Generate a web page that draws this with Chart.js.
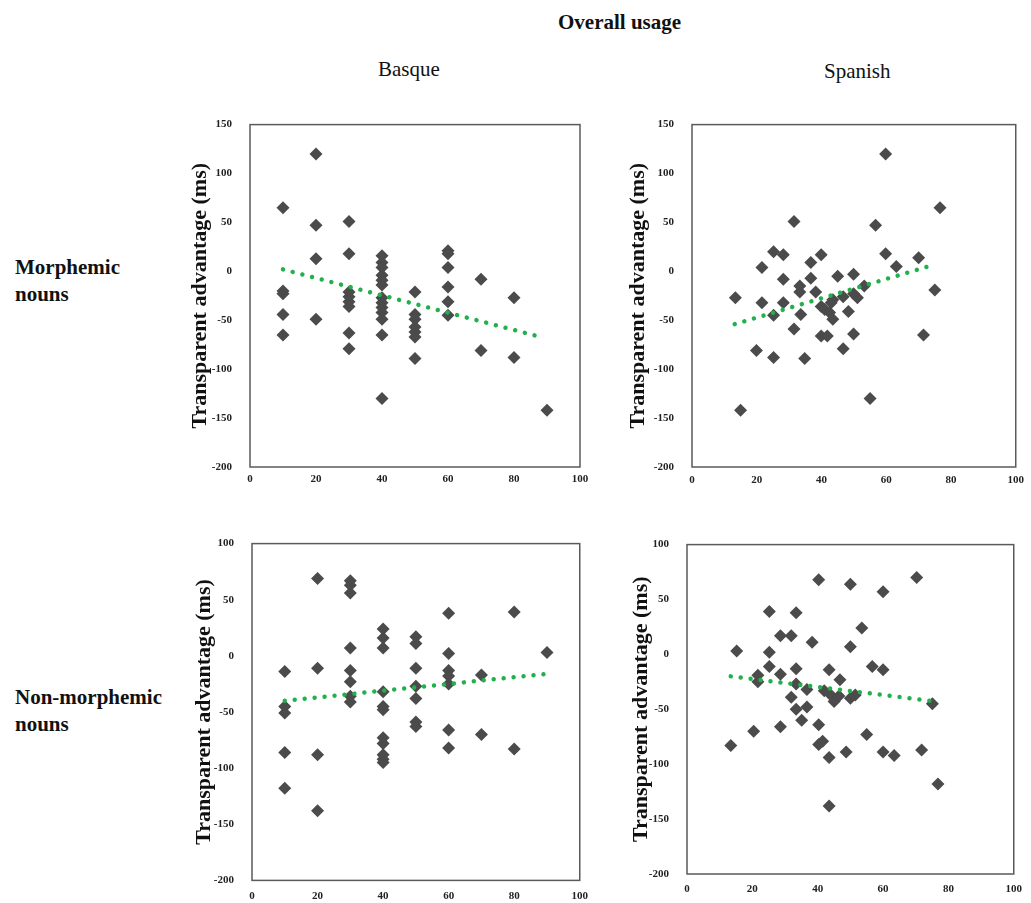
<!DOCTYPE html>
<html>
<head>
<meta charset="utf-8">
<script src="https://cdn.jsdelivr.net/npm/chart.js"></script>
<style>
    body { margin: 0; width: 1031px; height: 903px; overflow: hidden; background: #fff; font-family: 'Liberation Serif', 'Times New Roman', serif; }
    .lbl { position: absolute; color: #111; white-space: nowrap; }
    .bold { font-weight: bold; }
    canvas { position: absolute; }
</style>
</head>
<body>
<div class="lbl bold" style="left:558px; top:10px; font-size:21px;">Overall usage</div>
<div class="lbl" style="left:378px; top:57px; font-size:21px;">Basque</div>
<div class="lbl" style="left:824px; top:59px; font-size:21px;">Spanish</div>
<div class="lbl bold" style="left:15px; top:254px; font-size:21px; line-height:27px;">Morphemic<br>nouns</div>
<div class="lbl bold" style="left:15px; top:684px; font-size:21px; line-height:27px;">Non-morphemic<br>nouns</div>

<canvas id="c1" width="420" height="400" style="left:175px; top:100px;"></canvas>
<canvas id="c2" width="414" height="400" style="left:617px; top:100px;"></canvas>
<canvas id="c3" width="420" height="386" style="left:177px; top:519px;"></canvas>
<canvas id="c4" width="419" height="383" style="left:612px; top:520px;"></canvas>

<script>
// Basque - morphemic nouns
const basqueMorphX = [10, 10, 10, 10, 10, 20, 20, 20, 20, 30, 30, 30, 30, 30, 30, 30, 30,
    40, 40, 40, 40, 40, 40, 40, 40, 40, 40, 40, 40, 40, 50, 50, 50, 50, 50, 50, 50,
    60, 60, 60, 60, 60, 60, 70, 70, 80, 80, 90];
const basqueMorphY = [65, -20, -23, -44, -65, 120, 47, 13, -49, 51, 18, -21, -26, -31, -36, -63, -79,
    16, 9, 4, -4, -9, -14, -27, -32, -37, -42, -49, -65, -130, -21, -44, -49, -57, -62, -67, -89,
    21, 18, 4, -16, -31, -45, -8, -81, -27, -88, -142];
const basqueMorphTrendX = [10, 88];
const basqueMorphTrendY = [2, -67];

// Spanish - morphemic nouns
const spanishMorphX = [13.4, 15, 19.9, 21.6, 21.6, 25.2, 25.2, 25.2, 28.2, 28.2, 28.2, 31.5, 31.5,
    33.3, 33.3, 33.6, 34.8, 36.7, 36.7, 38.2, 39.9, 39.9, 39.9, 41.8, 41, 42.5, 43, 43.5, 43.5,
    45, 46.7, 46.7, 48.3, 49.9, 49.9, 49.9, 51.1, 53.2, 55, 56.7, 59.8, 59.8, 63.1, 70, 71.5, 75, 76.6];
const spanishMorphY = [-27, -142, -81, 4, -32, 20, -45, -88, 17, -8, -32, 51, -59,
    -15, -21, -44, -89, 9, -7, -21, 17, -36, -66, -66, -39, -42, -32, -49, -29,
    -5, -26, -79, -41, -3, -64, -23, -27, -15, -130, 47, 120, 18, 5, 14, -65, -19, 65];
const spanishMorphTrendX = [13.2, 75];
const spanishMorphTrendY = [-54, 7];

// Basque - non-morphemic nouns
const basqueNonX = [10, 10, 10, 10, 10, 20, 20, 20, 20, 30, 30, 30, 30, 30, 30, 30, 30,
    40, 40, 40, 40, 40, 40, 40, 40, 40, 40, 40, 50, 50, 50, 50, 50, 50, 50,
    60, 60, 60, 60, 60, 60, 60, 70, 70, 80, 80, 90];
const basqueNonY = [-14, -45, -51, -86, -118, 69, -11, -88, -138, 67, 63, 56, 7, -13, -23, -36, -41,
    24, 16, 7, -32, -45, -48, -73, -78, -88, -92, -95, 17, 11, -11, -27, -38, -59, -63,
    38, 2, -13, -18, -25, -66, -82, -17, -70, 39, -83, 3];
const basqueNonTrendX = [10, 90];
const basqueNonTrendY = [-40, -16];

// Spanish - non-morphemic nouns
const spanishNonX = [13.4, 15.2, 20.4, 21.7, 21.7, 25.2, 25.2, 25.2, 28.6, 28.6, 28.6, 31.9, 31.9,
    33.4, 33.4, 33.4, 33.4, 35.1, 36.7, 36.7, 38.3, 40.3, 40.3, 40.3, 41.5, 42, 43.5, 43.5, 43.5,
    44, 45, 46.5, 46.8, 48.7, 50, 50, 50, 51.5, 53.5, 55, 56.7, 60, 60, 60, 63.4, 70.3, 71.8, 75.1, 76.8];
const spanishNonY = [-83, 3, -70, -19, -25, 39, 2, -11, 17, -18, -66, 17, -39,
    38, -13, -27, -50, -60, -32, -48, 11, 68, -64, -82, -79, -33, -14, -94, -138,
    -37, -43, -38, -23, -89, 64, 7, -40, -37, 24, -73, -11, 57, -14, -89, -92, 70, -87, -45, -118];
const spanishNonTrendX = [13.4, 76.6];
const spanishNonTrendY = [-20, -43];

const xTicks = [0, 20, 40, 60, 80, 100];
const yTicksTop = [150, 100, 50, 0, -50, -100, -150, -200];
const yTicksBottom = [100, 50, 0, -50, -100, -150, -200];

const serif = "'Liberation Serif', 'Times New Roman', serif";

function pairs(xs, ys) {
    return xs.map((x, i) => ({ x: x, y: ys[i] }));
}

// full box around the plot area
const boxPlugin = {
    id: 'box',
    beforeDatasetsDraw(chart) {
        const a = chart.chartArea;
        const ctx = chart.ctx;
        ctx.save();
        ctx.strokeStyle = '#5a5a5a';
        ctx.lineWidth = 1.5;
        ctx.strokeRect(a.left, a.top, a.right - a.left, a.bottom - a.top);
        ctx.restore();
    }
};

function makePanel(id, xs, ys, tx, ty, yTicks, opt) {
    const yMax = yTicks[0];
    new Chart(document.getElementById(id), {
        type: 'scatter',
        data: {
            datasets: [
                {
                    data: pairs(tx, ty),
                    showLine: true,
                    borderColor: '#22b04b',
                    borderWidth: 4.5,
                    borderDash: [0.001, 10],
                    borderCapStyle: 'round',
                    pointRadius: 0,
                    order: 0
                },
                {
                    data: pairs(xs, ys),
                    pointStyle: 'rectRot',
                    pointRadius: 6.5,
                    pointHoverRadius: 6.5,
                    backgroundColor: '#4b4b4b',
                    borderColor: '#4b4b4b',
                    borderWidth: 0,
                    order: 1
                }
            ]
        },
        options: {
            responsive: false,
            animation: false,
            layout: { padding: { top: 12, right: opt.right, left: 0, bottom: 0 } },
            plugins: { legend: { display: false }, tooltip: { enabled: false } },
            scales: {
                x: {
                    type: 'linear',
                    min: 0, max: 100,
                    afterBuildTicks: s => { s.ticks = xTicks.map(v => ({ value: v })); },
                    afterFit: s => { s.height = opt.xh; },
                    grid: { display: false, drawTicks: false },
                    border: { display: false },
                    ticks: { color: '#222', padding: opt.xpad, font: { family: serif, size: 11, weight: 'bold' } }
                },
                y: {
                    type: 'linear',
                    min: -200, max: yMax,
                    afterBuildTicks: s => { s.ticks = yTicks.map(v => ({ value: v })); },
                    afterFit: s => { s.width = 75; },
                    grid: { display: false, drawTicks: false },
                    border: { display: false },
                    ticks: { color: '#222', padding: 18, font: { family: serif, size: 11, weight: 'bold' } },
                    title: {
                        display: true,
                        text: 'Transparent advantage (ms)',
                        color: '#111',
                        padding: { top: opt.tpad, bottom: 0 },
                        font: { family: serif, size: 22, weight: 'bold' }
                    }
                }
            }
        },
        plugins: [boxPlugin]
    });
}

makePanel('c1', basqueMorphX, basqueMorphY, basqueMorphTrendX, basqueMorphTrendY, yTicksTop,
    { right: 15, xh: 33, xpad: 6, tpad: 12 });
makePanel('c2', spanishMorphX, spanishMorphY, spanishMorphTrendX, spanishMorphTrendY, yTicksTop,
    { right: 11, xh: 33, xpad: 7, tpad: 8 });
makePanel('c3', basqueNonX, basqueNonY, basqueNonTrendX, basqueNonTrendY, yTicksBottom,
    { right: 16, xh: 24, xpad: 9, tpad: 14 });
makePanel('c4', spanishNonX, spanishNonY, spanishNonTrendX, spanishNonTrendY, yTicksBottom,
    { right: 12, xh: 29, xpad: 9, tpad: 16 });
</script>
</body>
</html>
